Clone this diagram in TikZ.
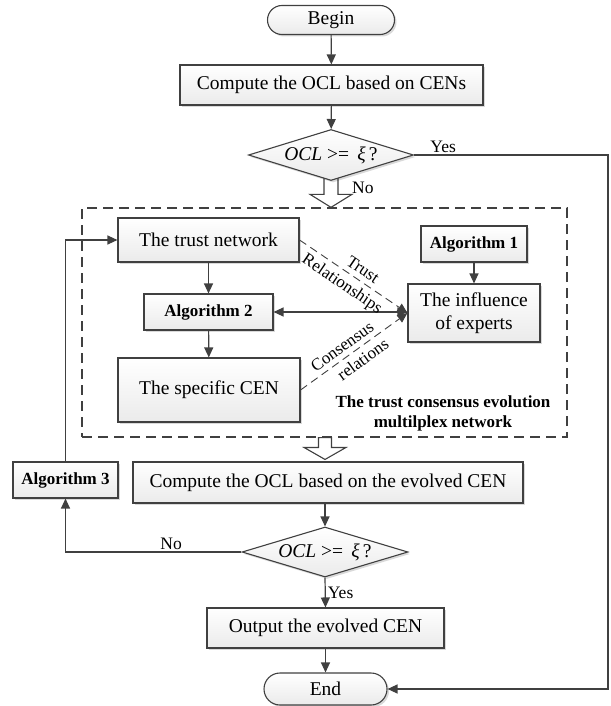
\documentclass[tikz,border=0pt]{standalone}
\usepackage{fontspec}
\setmainfont{Liberation Serif}
\usetikzlibrary{arrows.meta,shapes.geometric,shapes.misc,shadows,calc,backgrounds}
\definecolor{linec}{HTML}{404040}
\begin{document}
\begin{tikzpicture}[x=1pt,y=-1pt,
  basefill/.style={draw=linec, line width=1.1pt, top color=white, bottom color=black!8,
    drop shadow={shadow xshift=2pt, shadow yshift=-2pt, fill=black, opacity=0.15}},
  box/.style={basefill, rectangle, inner sep=0pt, align=center,
    font=\fontsize{19.5}{23}\selectfont},
  algbox/.style={box, font=\fontsize{17}{20}\bfseries\selectfont},
  term/.style={basefill, rounded rectangle, inner sep=0pt,
    font=\fontsize{19.5}{23}\selectfont},
  decide/.style={basefill, diamond, aspect=3.2, inner sep=0pt,
    font=\fontsize{19.5}{23}\selectfont},
  arr/.style={draw=linec, line width=1.2pt, -{Triangle[length=10pt,width=9pt]}},
  darr/.style={draw=linec, line width=1.2pt, {Triangle[length=10pt,width=9pt]}-{Triangle[length=10pt,width=9pt]}},
  link/.style={draw=linec, line width=0.9pt, dash pattern=on 8pt off 5pt,
    -{Triangle[length=10pt,width=9pt]}},
  lbl/.style={font=\fontsize{17.5}{20}\selectfont, inner sep=2pt},
  slbl/.style={font=\fontsize{17}{18}\selectfont, inner sep=0pt, sloped},
  hollow/.style={draw=linec, line width=1.1pt, fill=white, line join=miter}
]
\useasboundingbox (0,0) rectangle (610,706);

% main flow, top part
\node[term, minimum width=127, minimum height=29] (begin) at (331,20) {Begin};
\node[box, minimum width=303, minimum height=40] (comp1) at (331.5,85) {Compute the OCL based on CENs};
\node[decide, minimum width=165, minimum height=51] (dec1) at (331,155)
  {\textit{OCL} >= \,\textit{ξ}\,?};

% the multiplex network frame
\node[draw=linec, line width=1.3pt, dash pattern=on 10pt off 6pt, rectangle,
  minimum width=485, minimum height=229, inner sep=0pt] (net) at (324.5,322.5) {};

\node[box, minimum width=181, minimum height=44] (trust) at (208.5,240) {The trust network};
\node[algbox, minimum width=129, minimum height=36] (alg2) at (208.5,312) {Algorithm 2};
\node[box, minimum width=182, minimum height=64] (spec) at (209,390) {The specific CEN};
\node[algbox, minimum width=106, minimum height=36] (alg1) at (474,244) {Algorithm 1};
\node[box, minimum width=132, minimum height=58] (infl) at (474,313) {The influence\\of experts};
\node[align=center, font=\fontsize{17}{20}\bfseries\selectfont] (nettext) at (443,413)
  {The trust consensus evolution\\multilplex network};

% lower part
\node[algbox, minimum width=105, minimum height=36] (alg3) at (65.5,480) {Algorithm 3};
\node[box, minimum width=390, minimum height=41] (comp2) at (328,482.5) {Compute the OCL based on the evolved CEN};
\node[decide, minimum width=166, minimum height=50] (dec2) at (325,552)
  {\textit{OCL} >= \,\textit{ξ}\,?};
\node[box, minimum width=237, minimum height=40] (out) at (325.5,628) {Output the evolved CEN};
\node[term, minimum width=123, minimum height=32] (endn) at (325.5,689) {End};

\coordinate (rx) at (608,0);

% hollow block arrows into and out of the network frame
\begin{scope}[on background layer]
  \path (dec1.south) coordinate (bta) (dec1.south |- net.north) coordinate (btb);
  \draw[hollow] ($(bta)+(-7,-3)$) -- ($(btb)+(-7,-13)$) -- ($(btb)+(-21,-13)$) -- (btb)
    -- ($(btb)+(21,-13)$) -- ($(btb)+(7,-13)$) -- ($(bta)+(7,-3)$) -- cycle;
  \path (net.south -| dec2.north) coordinate (bba) ($(comp2.north -| dec2.north)+(0,-2)$) coordinate (bbb);
  \draw[hollow] ($(bba)+(-6.5,0)$) -- ($(bbb)+(-6.5,-12)$) -- ($(bbb)+(-21,-12)$) -- (bbb)
    -- ($(bbb)+(21,-12)$) -- ($(bbb)+(6.5,-12)$) -- ($(bba)+(6.5,0)$) -- cycle;
\end{scope}
\node[lbl, anchor=west] (no1) at (350,188) {No};

% connectors
\draw[arr] (begin) -- (comp1);
\draw[arr] (comp1) -- (dec1);
\draw[arr] (dec1.east) -- node[lbl, above, pos=0.15] {Yes} (dec1.east -| rx) |- (endn.east);

\draw[arr] (trust) -- (alg2);
\draw[arr] (alg2) -- (spec);
\draw[arr] (alg1) -- (infl);
\draw[darr] (alg2.east) -- (alg2.east -| infl.west);
\draw[link] (trust.east) -- node[slbl, anchor=south, yshift=5pt, pos=0.53] {Trust}
  node[slbl, anchor=north, yshift=-5pt, pos=0.46] {Relationships} (infl.west);
\draw[link] (spec.east) -- node[slbl, anchor=south, yshift=5pt, pos=0.45] {Consensus}
  node[slbl, anchor=north, yshift=-5pt, pos=0.52] {relations} (infl.west);

\draw[arr] (comp2.south -| dec2.north) -- (dec2.north);
\draw[arr] (dec2.west) -- node[lbl, above, pos=0.4] {No} (dec2.west -| alg3.south) -- (alg3.south);
\draw[arr] (alg3.north) |- (trust.west);
\draw[arr] (dec2.south) -- node[lbl, right] {Yes} (out.north);
\draw[arr] (out) -- (endn);
\end{tikzpicture}
\end{document}
